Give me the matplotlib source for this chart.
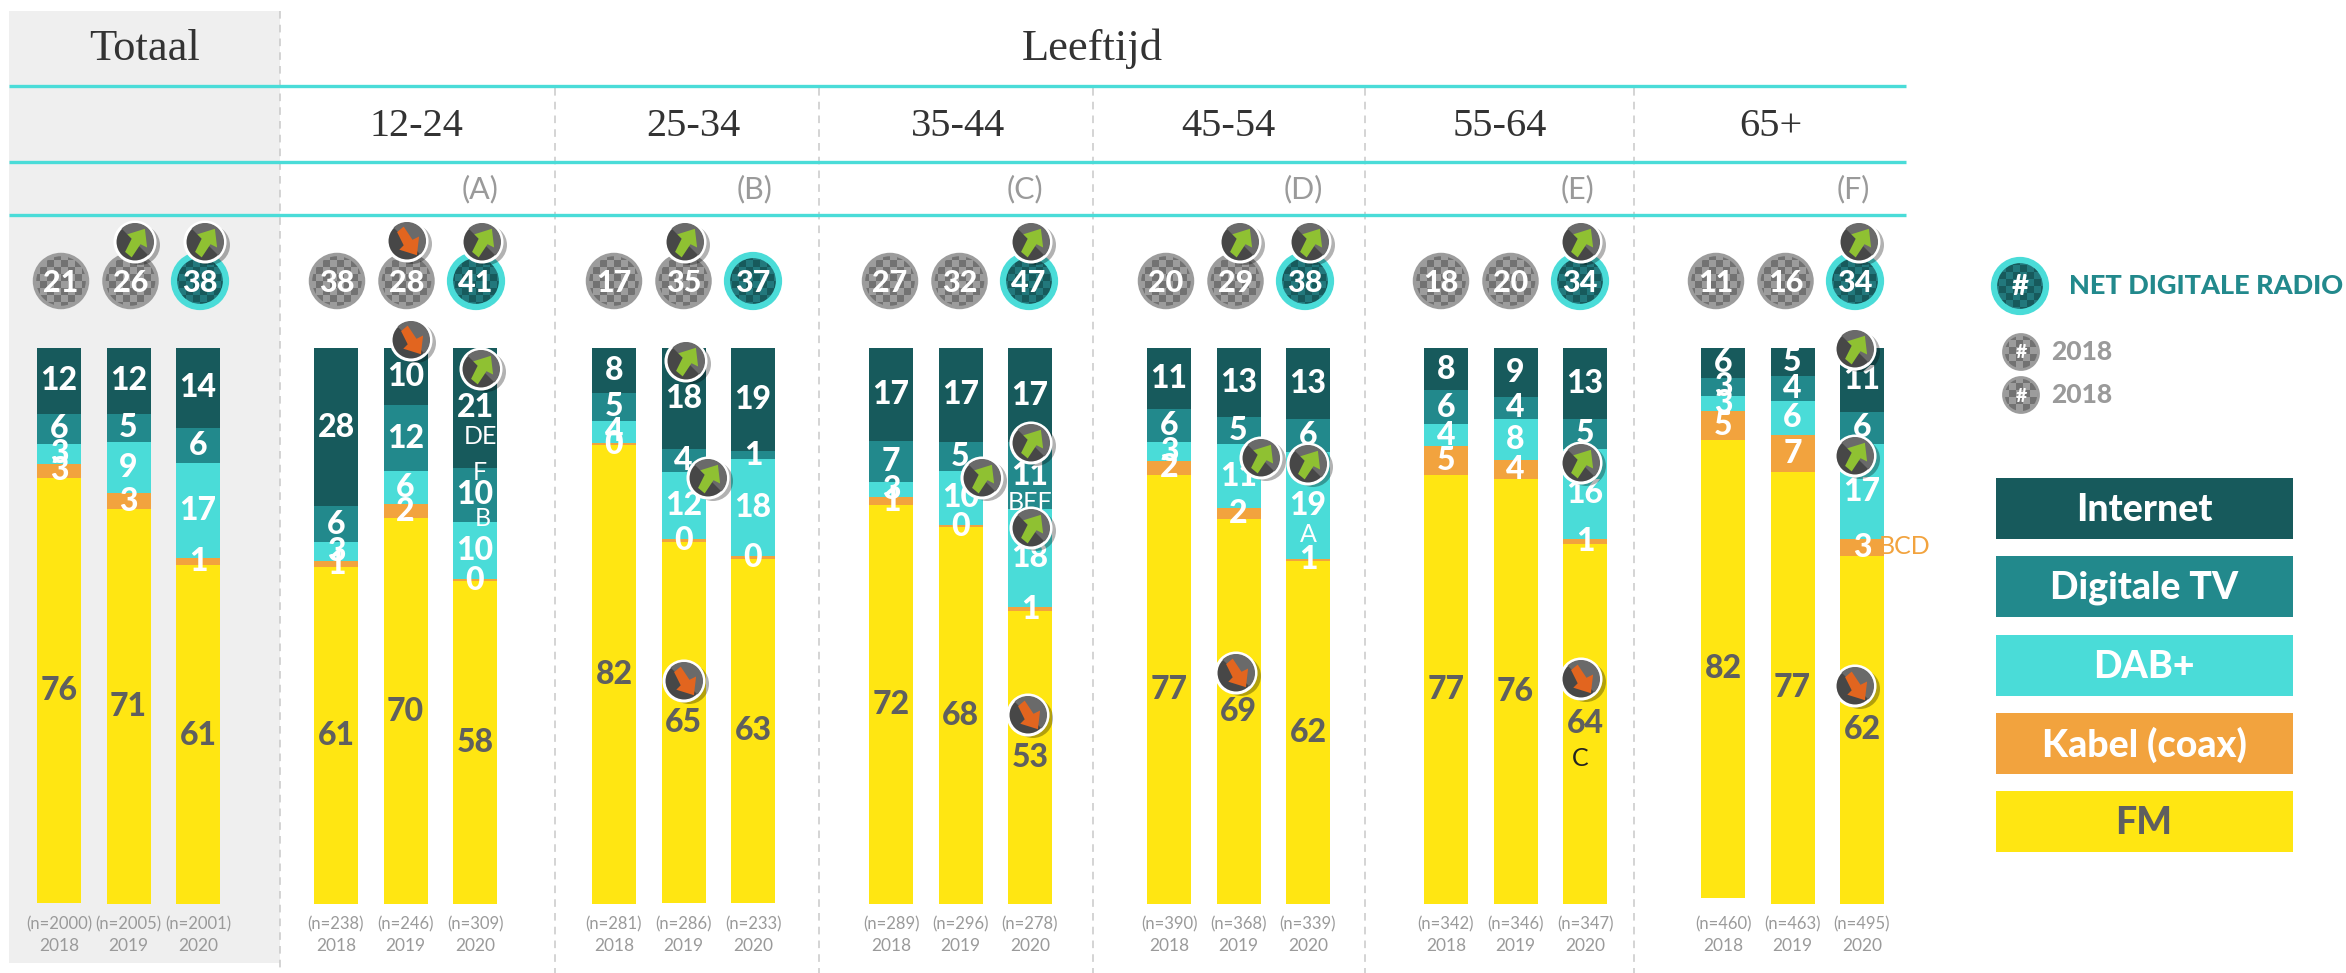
import numpy as np
from matplotlib import pyplot as plt
from matplotlib.colors import ListedColormap
from matplotlib.patches import Circle, Polygon, Rectangle, Wedge

# order per column: Totaal 18/19/20, 12-24, 25-34, 35-44, 45-54, 55-64, 65+
internet = [11.8, 11.8, 14.4, 28.5, 10.3, 21.6, 8.1, 18.2, 18.6, 16.7, 16.9, 17.0,
            10.9, 12.5, 12.7, 7.6, 8.9, 12.7, 5.4, 5.0, 11.5]
digitale_tv = [5.5, 5.2, 6.3, 6.5, 11.9, 9.7, 5.0, 4.2, 1.4, 7.4, 5.2, 11.9,
               6.1, 4.8, 6.1, 6.1, 3.8, 5.5, 3.2, 4.5, 5.8]
dab = [3.5, 9.1, 17.1, 3.4, 5.9, 10.3, 4.0, 12.0, 17.5, 2.8, 9.7, 17.8,
       3.3, 11.5, 19.1, 4.0, 7.4, 16.1, 2.8, 6.2, 17.0]
kabel = [2.6, 2.9, 1.3, 1.0, 2.5, 0.4, 0.4, 0.5, 0.4, 1.4, 0.5, 0.7,
         2.5, 2.0, 0.5, 5.2, 3.5, 1.0, 5.1, 6.7, 3.1]
fm = [76.6, 71.0, 61.3, 60.7, 69.5, 58.2, 82.5, 65.0, 62.0, 71.7, 67.7, 52.6,
      77.2, 69.2, 61.6, 77.1, 76.4, 64.7, 82.5, 77.6, 62.6]

internet_lbl = [12, 12, 14, 28, 10, 21, 8, 18, 19, 17, 17, 17, 11, 13, 13, 8, 9, 13, 6, 5, 11]
digitale_tv_lbl = [6, 5, 6, 6, 12, 10, 5, 4, 1, 7, 5, 11, 6, 5, 6, 6, 4, 5, 3, 4, 6]
dab_lbl = [3, 9, 17, 3, 6, 10, 4, 12, 18, 3, 10, 18, 3, 11, 19, 4, 8, 16, 3, 6, 17]
kabel_lbl = [3, 3, 1, 1, 2, 0, 0, 0, 0, 1, 0, 1, 2, 2, 1, 5, 4, 1, 5, 7, 3]
fm_lbl = [76, 71, 61, 61, 70, 58, 82, 65, 63, 72, 68, 53, 77, 69, 62, 77, 76, 64, 82, 77, 62]

net_digitaal = [21, 26, 38, 38, 28, 41, 17, 35, 37, 27, 32, 47, 20, 29, 38, 18, 20, 34, 11, 16, 34]
sample_n = [2000, 2005, 2001, 238, 246, 309, 281, 286, 233, 289, 296, 278,
            390, 368, 339, 342, 346, 347, 460, 463, 495]
years = ["2018", "2019", "2020"]
age_groups = ["12-24", "25-34", "35-44", "45-54", "55-64", "65+"]
group_ids = ["(A)", "(B)", "(C)", "(D)", "(E)", "(F)"]

series = [internet, digitale_tv, dab, kabel, fm]
series_lbl = [internet_lbl, digitale_tv_lbl, dab_lbl, kabel_lbl, fm_lbl]
series_names = ["Internet", "Digitale TV", "DAB+", "Kabel (coax)", "FM"]
colors = ["#175a5c", "#22898c", "#4adcd8", "#f2a33e", "#ffe612"]
label_colors = ["white", "white", "white", "white", "#5f5f5f"]

TEAL = "#4adcd8"
GREY = "#9a9a9a"
W, H = 2346, 973
BAR_TOP, BAR_100 = 348, 903.5
BAR_W = 44
BAR_LEFT = [37, 314, 592, 869, 1147, 1424, 1701]
BUBBLE_LEFT = [61, 337, 614, 890, 1166, 1441, 1716]
STEP = 69.5
SEPARATORS = [280, 555, 819, 1093, 1365, 1634]

SANS = "Lato"
SLAB = "Liberation Serif"

plt.rcParams["font.family"] = SANS

fig = plt.figure(figsize=(W / 100, H / 100), dpi=100)

# bars: x in figure pixels, y in percent running downwards from the top
ax = fig.add_axes([0, (H - BAR_100) / H, 1, (BAR_100 - BAR_TOP) / H], zorder=2)
ax.set_xlim(0, W)
ax.set_ylim(100, 0)
ax.axis("off")

# overlay in pixels for headers, bubbles, legend
bg = fig.add_axes([0, 0, 1, 1], zorder=1)
bg.set_xlim(0, W)
bg.set_ylim(H, 0)
bg.axis("off")
top = fig.add_axes([0, 0, 1, 1], zorder=3)
top.set_xlim(0, W)
top.set_ylim(H, 0)
top.axis("off")
top.patch.set_alpha(0)

# background
bg.add_patch(Rectangle((9, 11), 271, 952, fc="#efefef", ec="none"))
for i, x in enumerate(SEPARATORS):
    bg.plot([x, x], [11 if i == 0 else 88, H], color="#c9c9c9", lw=1.1, ls=(0, (5, 4)))
for y in [86, 162, 215]:
    bg.plot([9, 1906], [y, y], color=TEAL, lw=2.4, solid_capstyle="butt")

# headers
bg.text(145, 49, "Totaal", family=SLAB, fontsize=32, color="#333333", ha="center", va="center")
bg.text(1092, 49, "Leeftijd", family=SLAB, fontsize=32, color="#333333", ha="center", va="center")
for x, name in zip([416, 693, 958, 1228, 1500, 1771], age_groups):
    bg.text(x, 126, name, family=SLAB, fontsize=29, color="#333333", ha="center", va="center")
for x, name in zip([480, 755, 1025, 1303, 1578, 1853], group_ids):
    bg.text(x, 189, name, fontsize=22, color=GREY, ha="center", va="center")

# stacked bars
x_left = np.array([BAR_LEFT[g] + STEP * k for g in range(7) for k in range(3)])
x_mid = x_left + BAR_W / 2
bottoms = np.zeros(len(internet))
for vals, lbls, col, lcol in zip(series, series_lbl, colors, label_colors):
    vals = np.array(vals)
    ax.bar(x_mid, vals, BAR_W, bottom=bottoms, color=col, lw=0)
    for x, b, v, lb in zip(x_mid, bottoms, vals, lbls):
        ax.text(x, b + v / 2, str(lb), color=lcol, fontsize=23, fontweight="black",
                ha="center", va="center", zorder=5)
    bottoms = bottoms + vals


def checker_circle(a, cx, cy, r, c1, c2, ring, ring_w, zorder=4):
    a.add_patch(Circle((cx, cy), r, fc=c1, ec="none", zorder=zorder))
    n = int(2 * r / 7) + 2
    xs = cx - r + 7 * np.arange(n + 1) - 2
    ys = cy - r + 7 * np.arange(n + 1) - 2
    z = np.indices((n, n)).sum(axis=0) % 2
    mesh = a.pcolormesh(xs, ys, z, cmap=ListedColormap([c1, c2]), zorder=zorder + 0.1)
    mesh.set_clip_path(Circle((cx, cy), r, transform=a.transData))
    a.add_patch(Circle((cx, cy), r, fc="none", ec=ring, lw=ring_w, zorder=zorder + 0.2))


ARROW = np.array([[-9, 9], [-3, -3], [-7, -7], [9, -12], [11, 5], [5, 2], [-3, 14]], dtype=float) * 1.1


def arrow_badge(cx, cy, up=True):
    top.add_patch(Circle((cx + 5, cy + 3), 20, fc="#000000", alpha=0.3, ec="none", zorder=6))
    top.add_patch(Circle((cx, cy), 20, fc="#474747", ec="white", lw=2.2, zorder=6.1))
    top.add_patch(Wedge((cx, cy), 19, 225, 405, fc="#6a6a6a", ec="none", zorder=6.15))
    pts = ARROW if up else ARROW * np.array([1, -1]) + np.array([0, 1])
    top.add_patch(Polygon(pts + [cx, cy], fc="#8fc132" if up else "#e2651f", ec="none", zorder=6.2))


# bubbles
bubble_x = [BUBBLE_LEFT[g] + STEP * k for g in range(7) for k in range(3)]
for i, (x, v) in enumerate(zip(bubble_x, net_digitaal)):
    if i % 3 == 2:
        checker_circle(top, x, 281, 26, "#22787c", "#175a5c", TEAL, 4.5)
    else:
        checker_circle(top, x, 281, 26.5, "#9c9c9c", "#727272", "#9c9c9c", 2.5)
    top.text(x, 283, str(v), color="white", fontsize=22, fontweight="black", ha="center", va="center", zorder=5)

# (x, y, direction)
badges_top = [(135, 242, 1), (205, 242, 1), (407, 241, 0), (482, 242, 1), (685, 242, 1), (1031, 242, 1),
              (1240, 242, 1), (1310, 242, 1), (1581, 242, 1), (1859, 242, 1)]
badges_bars = [(411, 340, 0), (481, 369, 1), (686, 361, 1), (708, 478, 1), (684, 681, 0), (982, 478, 1),
               (1031, 443, 1), (1031, 528, 1), (1028, 715, 0), (1261, 458, 1), (1308, 464, 1),
               (1236, 673, 0), (1581, 463, 1), (1581, 679, 0), (1855, 349, 1), (1855, 456, 1),
               (1855, 686, 0)]
for bx, by, d in badges_top + badges_bars:
    arrow_badge(bx, by, bool(d))

# significance letters
sig_text = [(480, 436, "DE", "white"), (480, 472, "F", "white"), (483, 518, "B", "white"),
            (1030, 502, "BEF", "white"), (1308, 534, "A", "white"), (1580, 758, "C", "#222222"),
            (1905, 547, "BCD", "#f2a33e")]
for x, y, s, c in sig_text:
    top.text(x, y, s, color=c, fontsize=18, ha="center", va="center", zorder=5)

# n and year under the bars
for i, (x, n) in enumerate(zip(x_mid, sample_n)):
    bg.text(x, 924, f"(n={n})", color=GREY, fontsize=12, ha="center", va="center")
    bg.text(x, 946, years[i % 3], color=GREY, fontsize=12.5, ha="center", va="center")

# legend
checker_circle(top, 2020, 286, 26, "#22787c", "#175a5c", TEAL, 4.5)
top.text(2020, 287, "#", color="white", fontsize=21, fontweight="black", ha="center", va="center", zorder=5)
top.text(2069, 286, "NET DIGITALE RADIO", color="#22898c", fontsize=19.5, fontweight="black", ha="left", va="center")
for y in [352, 395]:
    checker_circle(top, 2021, y, 17.5, "#9c9c9c", "#727272", "#9c9c9c", 2)
    top.text(2021, y + 1, "#", color="white", fontsize=14, fontweight="black", ha="center", va="center", zorder=5)
    top.text(2051, y, "2018", color=GREY, fontsize=19, fontweight="black", ha="left", va="center")

leg_y = [478, 556, 635, 713, 791]
for y, name, col, lcol in zip(leg_y, series_names, colors, label_colors):
    bg.add_patch(Rectangle((1996, y), 297, 61, fc=col, ec="none"))
    bg.text(2144, y + 32, name, color=lcol, fontsize=27, fontweight="black", ha="center", va="center")

fig.savefig("out.png", dpi=100)
